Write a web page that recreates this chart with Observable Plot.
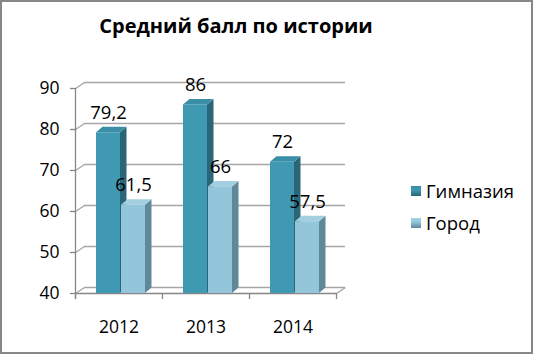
<!DOCTYPE html>
<html>
<head>
<meta charset="utf-8">
<script src="https://cdn.jsdelivr.net/npm/d3@7"></script>
<script src="https://cdn.jsdelivr.net/npm/@observablehq/plot@0.6"></script>
<style>
  html, body { margin: 0; padding: 0; background: white; }
  #wrap { position: relative; width: 533px; height: 354px; overflow: hidden; font-family: "Open Sans", sans-serif; }
  #wrap svg { position: absolute; left: 0; top: 0; }
  #title { position: absolute; left: 0; width: 472px; top: 12px; text-align: center; font-weight: bold; font-size: 20px; color: #000; }
  .leg { position: absolute; left: 411px; font-size: 18.5px; color: #000; display: flex; align-items: center; white-space: nowrap; }
  .leg span.sw { display: inline-block; width: 10px; height: 10px; margin-right: 5px; }
  #frame { position: absolute; left: 0; top: 0; width: 533px; height: 354px; box-sizing: border-box; border: 2px solid #878787; pointer-events: none; }
</style>
</head>
<body>
<div id="wrap">
  <div id="title"></div>
  <div id="frame"></div>
</div>
<script>
const title = "Средний балл по истории";
const years = ["2012", "2013", "2014"];
const seriesNames = ["Гимназия", "Город"];
const gymnasium = [79.2, 86, 72];
const city = [61.5, 66, 57.5];
const yTicks = [40, 50, 60, 70, 80, 90];

// styles
const frontColors = ["#4099b2", "#94c6db"];
const topColors = ["#3a8ea6", "#a3cfe0"];
const sideColors = ["#2a6677", "#5f8898"];
const gridColor = "#a6a6a6";
const axisColor = "#868686";

// layout (pixels)
const W = 533, H = 354;
const mL = 75, mR = 197, mT = 88, mB = 61;
const pxX = 3 / (W - mL - mR);       // x data units per px
const pxY = 50 / (H - mT - mB);      // y data units per px
const wallDX = 9 * pxX, wallDY = 6 * pxY;
const barDX = 6.5 * pxX, barDY = 5.5 * pxY;
const barW = 24 * pxX;
const barStart = [-22.5 * pxX, 2.5 * pxX];

const seriesValues = [gymnasium, city];
const bars = [];
years.forEach((yr, i) => {
  seriesValues.forEach((vals, s) => {
    const x1 = i + barStart[s], x2 = x1 + barW;
    bars.push({id: yr + "-" + s, s, i, v: vals[i], x1, x2});
  });
});
const sides = bars.flatMap(b => [
  {id: b.id, s: b.s, x: b.x2, y1: 40, y2: b.v},
  {id: b.id, s: b.s, x: b.x2 + barDX, y1: 40 + barDY, y2: b.v + barDY}
]);
const tops = bars.flatMap(b => [
  {id: b.id, s: b.s, x: b.x1, y1: b.v, y2: b.v},
  {id: b.id, s: b.s, x: b.x1 + barDX, y1: b.v, y2: b.v + barDY},
  {id: b.id, s: b.s, x: b.x2, y1: b.v, y2: b.v + barDY},
  {id: b.id, s: b.s, x: b.x2 + barDX, y1: b.v + barDY, y2: b.v + barDY}
]);
const catEdges = [-0.5, 0.5, 1.5, 2.5];

const chart = Plot.plot({
  width: W, height: H,
  marginLeft: mL, marginRight: mR, marginTop: mT, marginBottom: mB,
  x: {domain: [-0.5, 2.5], axis: null},
  y: {domain: [40, 90], axis: null},
  style: {fontFamily: "Open Sans, sans-serif", background: "transparent", overflow: "visible", color: "#000"},
  marks: [
    Plot.ruleY(yTicks, {y: t => t + wallDY, x1: () => -0.5 + wallDX, x2: () => 2.5 + wallDX, stroke: gridColor, strokeWidth: 1.3}),
    Plot.link(yTicks, {x1: () => -0.5, y1: t => t, x2: () => -0.5 + wallDX, y2: t => t + wallDY, stroke: gridColor, strokeWidth: 1.3}),
    Plot.link([40], {x1: () => 2.5, y1: t => t, x2: () => 2.5 + wallDX, y2: t => t + wallDY, stroke: gridColor, strokeWidth: 1.3}),
    Plot.ruleY([40], {x1: () => -0.5, x2: () => 2.5, stroke: axisColor, strokeWidth: 1.3}),
    Plot.ruleX(catEdges, {y1: () => 40, y2: () => 40 - 6 * pxY, stroke: axisColor, strokeWidth: 1.3}),
    Plot.ruleX([-0.5], {y1: () => 40 - 6 * pxY, y2: () => 90, stroke: axisColor, strokeWidth: 1.3}),
    Plot.axisY({ticks: yTicks, tickSize: 5, tickPadding: 11, fontSize: 17.5, stroke: axisColor, strokeWidth: 1.3, fill: "#000", tickFormat: d => String(d)}),
    Plot.areaY(sides, {x: "x", y1: "y1", y2: "y2", z: "id", fill: d => sideColors[d.s], curve: "linear"}),
    Plot.areaY(tops, {x: "x", y1: "y1", y2: "y2", z: "id", fill: d => topColors[d.s], curve: "linear"}),
    Plot.rect(bars, {x1: "x1", x2: "x2", y1: () => 40, y2: "v", fill: d => frontColors[d.s]}),
    Plot.text(bars, {x: d => (d.x1 + d.x2) / 2, y: "v", dy: -20, text: d => String(d.v).replace(".", ","), fontSize: 18.5, fill: "#000"}),
    Plot.text(years, {x: (d, i) => i, y: () => 40, dy: 34, text: d => d, fontSize: 17.5, fill: "#000"})
  ]
});

const wrap = document.getElementById("wrap");
wrap.insertBefore(chart, wrap.firstChild);
document.getElementById("title").textContent = title;

const legTops = [191, 223];
seriesNames.forEach((name, s) => {
  const el = document.createElement("div");
  el.className = "leg";
  el.style.top = (legTops[s] - 13) + "px";
  const sw = document.createElement("span");
  sw.className = "sw";
  sw.style.background = `linear-gradient(${topColors[s]}, ${frontColors[s]} 40%, ${sideColors[s]})`;
  el.appendChild(sw);
  const t = document.createElement("span");
  t.textContent = name;
  el.appendChild(t);
  wrap.appendChild(el);
});
</script>
</body>
</html>
